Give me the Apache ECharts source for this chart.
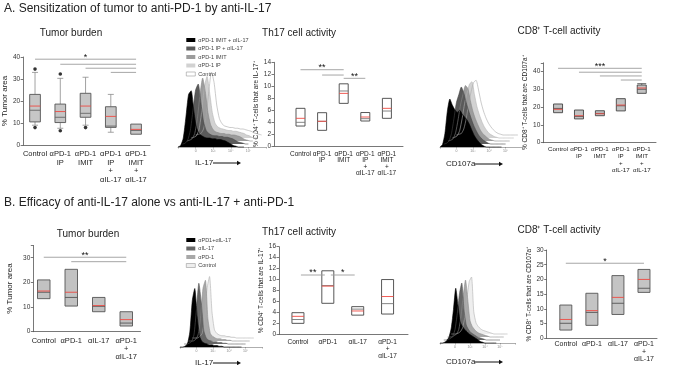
<!DOCTYPE html>
<html>
<head>
<meta charset="utf-8">
<script src="https://cdn.jsdelivr.net/npm/echarts@6/dist/echarts.min.js"></script>
<style>
html, body { margin: 0; padding: 0; background: #fff; }
#chart { width: 677px; height: 365px; }
</style>
</head>
<body>
<div id="chart"></div>
<script>
// ---------- data ----------
const catsA = ['Control', 'αPD-1\nIP', 'αPD-1\nIMIT', 'αPD-1\nIP\n+\nαIL-17', 'αPD-1\nIMIT\n+\nαIL-17'];
const catsB = ['Control', 'αPD-1', 'αIL-17', 'αPD-1\n+\nαIL-17'];

// box rows: [low whisker, Q1, median, Q3, high whisker]
const aTumorBox = [[9, 10.5, 15.8, 23, 33], [7.6, 10.2, 12.6, 18.6, 30.3], [9, 12.6, 14.4, 23.5, 30.8], [5.8, 8.0, 8.6, 17.4, 23], [4.9, 4.9, 6.6, 9.5, 9.5]];
const aTumorMean = [17.7, 15.2, 17.7, 13.0, 7.1];
const aTumorOut = [[0, 34.5], [0, 7.9], [1, 32.3], [1, 6.5], [2, 7.9]];
const aTumorSig = [[0, 4, 39], [1, 4, 36.7], [2, 4, 34.9], [3, 4, 33]];
const aTumorStars = ['*', '', '', ''];

const aTh17Box = [[3.34, 3.34, 3.96, 6.3, 6.3], [2.62, 2.62, 4.13, 5.57, 5.57], [7.13, 7.13, 9.2, 10.4, 10.4], [4.18, 4.18, 4.57, 5.6, 5.6], [4.63, 4.63, 5.85, 7.97, 7.97]];
const aTh17Mean = [4.63, 4.13, 8.8, 4.85, 6.3];
const aTh17Sig = [[0, 2, 12.76], [1, 2, 11.87], [2, 3, 11.32]];
const aTh17Stars = ['**', '', '**'];

const aCd8Box = [[16.9, 16.9, 19.3, 21.8, 21.8], [13.4, 13.4, 14.8, 18.4, 18.4], [15.2, 15.2, 16.5, 18.0, 18.0], [17.9, 17.9, 20.8, 24.8, 24.8], [27.8, 27.8, 30.1, 32.5, 33.3]];
const aCd8Mean = [18.8, 15.2, 16.3, 21.2, 30.8];
const aCd8Sig = [[0, 4, 41.9], [1, 4, 39.7], [2, 4, 37.6], [3, 4, 35.3]];
const aCd8Stars = ['***', '', '', ''];

const bTumorBox = [[13.4, 13.4, 16.0, 21.0, 21.0], [10.4, 10.4, 13.9, 25.3, 25.3], [8.1, 8.1, 10.3, 13.9, 13.9], [2.3, 2.3, 3.5, 8.1, 8.1]];
const bTumorMean = [16.5, 16.0, 10.6, 4.9];
const bTumorSig = [[0, 3, 30.2], [1, 3, 28.4]];
const bTumorStars = ['**', ''];

const bTh17Box = [[2.0, 2.0, 2.7, 3.95, 3.95], [5.66, 5.66, 8.9, 11.6, 11.6], [3.5, 3.5, 4.6, 5.05, 5.05], [3.7, 3.7, 5.6, 10.0, 10.0]];
const bTh17Mean = [3.28, 8.8, 4.26, 6.9];
const bTh17Sig = [[0, 1, 10.83], [1, 2, 10.83]];
const bTh17Stars = ['**', '*'];

const bCd8Box = [[2.8, 2.8, 5.1, 11.3, 11.3], [4.4, 4.4, 8.8, 15.3, 15.3], [8.1, 8.1, 11.9, 21.3, 21.3], [15.6, 15.6, 17.0, 23.4, 23.4]];
const bCd8Mean = [6.4, 9.4, 13.9, 20.0];
const bCd8Sig = [[0, 3, 25.5]];
const bCd8Stars = ['*'];

// flow histograms, counts per bin, front layer first
const legA = ['αPD-1 IMIT + αIL-17', 'αPD-1 IP + αIL-17', 'αPD-1 IMIT', 'αPD-1 IP', 'Control'];
const legB = ['αPD1+αIL-17', 'αIL-17', 'αPD-1', 'Control'];

const il17A_imitIl17 = [0, 2, 12, 40, 70, 75, 48, 26, 18, 15, 13, 12, 12, 11, 11, 10, 10, 9, 8, 6, 4, 2, 1, 0, 0, 0];
const il17A_ipIl17 = [0, 1, 5, 18, 45, 72, 80, 55, 30, 18, 14, 12, 11, 11, 10, 10, 9, 9, 8, 7, 5, 3, 2, 1, 0, 0];
const il17A_imit = [0, 1, 3, 10, 30, 62, 84, 66, 38, 22, 15, 12, 11, 10, 10, 9, 9, 8, 8, 7, 6, 4, 2, 1, 0, 0];
const il17A_ip = [0, 1, 3, 12, 36, 68, 82, 60, 34, 20, 15, 13, 12, 11, 10, 10, 9, 9, 8, 7, 6, 4, 3, 1, 0, 0];
const il17A_ctrl = [0, 1, 2, 8, 26, 58, 84, 70, 40, 22, 15, 12, 11, 10, 10, 9, 9, 8, 8, 7, 6, 5, 3, 2, 1, 0];

const cd107A_imitIl17 = [0, 3, 18, 48, 64, 56, 50, 46, 49, 44, 40, 36, 30, 22, 15, 10, 6, 3, 1, 0, 0, 0, 0, 0, 0, 0];
const cd107A_ipIl17 = [0, 1, 4, 14, 34, 55, 66, 76, 68, 55, 44, 34, 25, 18, 12, 8, 5, 3, 1, 0, 0, 0, 0, 0, 0, 0];
const cd107A_imit = [0, 1, 3, 11, 28, 48, 62, 74, 70, 54, 40, 30, 22, 15, 10, 7, 4, 2, 1, 0, 0, 0, 0, 0, 0, 0];
const cd107A_ip = [0, 1, 3, 10, 26, 46, 60, 72, 75, 58, 42, 31, 22, 15, 10, 6, 4, 2, 1, 0, 0, 0, 0, 0, 0, 0];
const cd107A_ctrl = [0, 1, 2, 8, 22, 42, 58, 70, 73, 60, 44, 32, 23, 16, 11, 7, 4, 2, 1, 0, 0, 0, 0, 0, 0, 0];

const il17B_combo = [0, 0, 1, 4, 20, 62, 78, 40, 14, 7, 5, 4, 3, 3, 2, 2, 1, 1, 0, 0, 0, 0, 0, 0, 0, 0];
const il17B_il17 = [0, 0, 1, 3, 12, 45, 81, 55, 18, 8, 5, 4, 3, 3, 2, 2, 1, 1, 0, 0, 0, 0, 0, 0, 0, 0];
const il17B_pd1 = [0, 0, 0, 2, 8, 30, 70, 81, 30, 10, 6, 4, 3, 3, 2, 2, 1, 1, 0, 0, 0, 0, 0, 0, 0, 0];
const il17B_ctrl = [0, 0, 0, 2, 6, 25, 66, 82, 35, 11, 6, 4, 3, 3, 2, 2, 1, 1, 0, 0, 0, 0, 0, 0, 0, 0];

const cd107B_combo = [0, 0, 1, 3, 8, 20, 45, 73, 50, 28, 22, 18, 15, 12, 10, 8, 6, 4, 2, 1, 0, 0, 0, 0, 0, 0];
const cd107B_il17 = [0, 0, 1, 2, 5, 14, 35, 62, 76, 40, 20, 14, 10, 8, 6, 4, 3, 2, 1, 0, 0, 0, 0, 0, 0, 0];
const cd107B_pd1 = [0, 0, 0, 2, 4, 10, 28, 55, 76, 50, 22, 14, 10, 7, 5, 4, 3, 2, 1, 0, 0, 0, 0, 0, 0, 0];
const cd107B_ctrl = [0, 0, 0, 1, 3, 8, 22, 48, 70, 76, 30, 15, 10, 7, 5, 4, 3, 2, 1, 0, 0, 0, 0, 0, 0, 0];

const histTicks = ['', '0', '10³', '10⁴', '10⁵', ''];

// ---------- layout ----------
const FONT = '"Liberation Sans", Arial, Helvetica, sans-serif';
const RED = '#ee4b43';

const panels = [
    { cats: catsA, box: aTumorBox, mean: aTumorMean, out: aTumorOut, sig: aTumorSig, stars: aTumorStars,
      ax: 21.5, axEnd: 150, band0: 22.4, band1: 148.7, top: 57, base: 145, yMax: 40, yInt: 10,
      yName: '% Tumor area', nameGap: 11, nameSize: 8, fill: '#c6c6c6', edge: '#555', med: '#666', whisker: '#8a8a8a',
      boxW: 10.7, cap: 6, lblSize: 7.5, lh: 8.5, margin: 5 },
    { cats: catsA, box: aTh17Box, mean: aTh17Mean, sig: aTh17Sig, stars: aTh17Stars,
      ax: 274, axEnd: 403, band0: 289.7, band1: 397.7, top: 62.3, base: 146, yMax: 14, yInt: 2,
      yName: '% CD4⁺ T-cells that are IL-17⁺', nameGap: 9, nameSize: 6.5, fill: '#ffffff', edge: '#444', med: '#777', whisker: '#777',
      boxW: 9, cap: 5, lblSize: 6.5, lh: 6.5, margin: 4.5 },
    { cats: catsA, box: aCd8Box, mean: aCd8Mean, sig: aCd8Sig, stars: aCd8Stars,
      ax: 543.3, axEnd: 656, band0: 547.6, band1: 652.2, top: 62.8, base: 142.7, yMax: 45, yInt: 10,
      yName: '% CD8⁺ T-cells that are CD107a⁺', nameGap: 13, nameSize: 6.5, fill: '#c2c2c2', edge: '#444', med: '#555', whisker: '#555',
      boxW: 9, cap: 9, lblSize: 6.2, lh: 7, margin: 3.5 },
    { cats: catsB, box: bTumorBox, mean: bTumorMean, sig: bTumorSig, stars: bTumorStars,
      ax: 33.3, axEnd: 140.5, band0: 30, band1: 140, top: 245.4, base: 331.7, yMax: 35, yInt: 10,
      yName: '% Tumor area', nameGap: 20, nameSize: 8, fill: '#c2c2c2', edge: '#555', med: '#555', whisker: '#555',
      boxW: 12.5, cap: 6, lblSize: 7.5, lh: 8, margin: 5.5 },
    { cats: catsB, box: bTh17Box, mean: bTh17Mean, sig: bTh17Sig, stars: bTh17Stars, sigInset: 3,
      ax: 279, axEnd: 408, band0: 283, band1: 402.5, top: 246.7, base: 334.3, yMax: 16, yInt: 2,
      yName: '% CD4⁺ T-cells that are IL-17⁺', nameGap: 9, nameSize: 6.5, fill: '#ffffff', edge: '#444', med: '#777', whisker: '#777',
      boxW: 12, cap: 6, lblSize: 6.5, lh: 7, margin: 4.5 },
    { cats: catsB, box: bCd8Box, mean: bCd8Mean, sig: bCd8Sig, stars: bCd8Stars,
      ax: 546.7, axEnd: 657, band0: 552.8, band1: 657, top: 250, base: 338.3, yMax: 30, yInt: 5,
      yName: '% CD8⁺ T-cells that are CD107a⁺', nameGap: 14, nameSize: 6.5, fill: '#c4c4c4', edge: '#555', med: '#555', whisker: '#555',
      boxW: 12, cap: 6, lblSize: 7, lh: 7.5, margin: 2.5 }
];

const hists = [
    { x0: 178, x1: 266, top: 72, base: 147, dx: 5, dy: 4, names: legA,
      layers: [il17A_imitIl17, il17A_ipIl17, il17A_imit, il17A_ip, il17A_ctrl] },
    { x0: 440, x1: 522, top: 72, base: 147, dx: 5, dy: 4, names: legA,
      layers: [cd107A_imitIl17, cd107A_ipIl17, cd107A_imit, cd107A_ip, cd107A_ctrl] },
    { x0: 180, x1: 262, top: 272, base: 347, dx: 5, dy: 4, names: legB,
      layers: [il17B_combo, il17B_il17, il17B_pd1, il17B_ctrl] },
    { x0: 440, x1: 515, top: 268, base: 343, dx: 5, dy: 4, names: legB,
      layers: [cd107B_combo, cd107B_il17, cd107B_pd1, cd107B_ctrl] }
];
const fillA = ['#000000', '#5a5a5a', '#9c9c9c', '#d2d2d2', '#ffffff'];
const strokeA = ['#000000', '#444444', '#888888', '#b5b5b5', '#a8a8a8'];
const fillB = ['#000000', '#666666', '#a8a8a8', '#eeeeee'];
const strokeB = ['#000000', '#555555', '#8c8c8c', '#b0b0b0'];
const BIN = 3;

function boxRender(p) {
    return function (params, api) {
        const i = api.value(0);
        const x = api.coord([i, 0])[0];
        const py = k => api.coord([i, api.value(k)])[1];
        const lo = py(1), q1 = py(2), md = py(3), q3 = py(4), hi = py(5), mn = py(6);
        const w = p.boxW, c = p.cap;
        const ws = { stroke: p.whisker, lineWidth: 0.8 };
        const kids = [];
        if (hi < q3 - 0.5) {
            kids.push({ type: 'line', shape: { x1: x, y1: hi, x2: x, y2: q3 }, style: ws });
            kids.push({ type: 'line', shape: { x1: x - c / 2, y1: hi, x2: x + c / 2, y2: hi }, style: ws });
        }
        if (lo > q1 + 0.5) {
            kids.push({ type: 'line', shape: { x1: x, y1: q1, x2: x, y2: lo }, style: ws });
            kids.push({ type: 'line', shape: { x1: x - c / 2, y1: lo, x2: x + c / 2, y2: lo }, style: ws });
        }
        kids.push({ type: 'rect', shape: { x: x - w / 2, y: q3, width: w, height: q1 - q3 },
            style: { fill: p.fill, stroke: p.edge, lineWidth: 0.9 } });
        kids.push({ type: 'line', shape: { x1: x - w / 2, y1: md, x2: x + w / 2, y2: md }, style: { stroke: p.med, lineWidth: 0.9 } });
        kids.push({ type: 'line', shape: { x1: x - w / 2, y1: mn, x2: x + w / 2, y2: mn }, style: { stroke: RED, lineWidth: 0.9 } });
        return { type: 'group', children: kids };
    };
}

function sigRender(p) {
    return function (params, api) {
        const a = api.coord([api.value(0), api.value(2)]);
        const b = api.coord([api.value(1), api.value(2)]);
        const inset = p.sigInset || 0;
        const kids = [{ type: 'line', shape: { x1: a[0] + inset, y1: a[1], x2: b[0] - inset, y2: b[1] },
            style: { stroke: '#9c9c9c', lineWidth: 0.9 } }];
        const label = p.stars[params.dataIndex];
        if (label) {
            kids.push({ type: 'text', x: (a[0] + b[0]) / 2, y: a[1] - 2,
                style: { text: label, fontSize: 9, fontFamily: FONT, fill: '#111', align: 'center', verticalAlign: 'middle' } });
        }
        return { type: 'group', children: kids };
    };
}

const grid = [], xAxis = [], yAxis = [], series = [];
const axisLineStyle = { color: '#555', width: 0.8 };

panels.forEach(p => {
    const h = p.base - p.top;
    // frame: y axis + x axis line
    const fi = grid.length;
    grid.push({ left: p.ax, top: p.top, width: p.axEnd - p.ax, height: h });
    xAxis.push({ gridIndex: fi, type: 'value', min: 0, max: 1,
        axisLine: { lineStyle: axisLineStyle }, axisTick: { show: false }, axisLabel: { show: false }, splitLine: { show: false } });
    yAxis.push({ gridIndex: fi, type: 'value', min: 0, max: p.yMax, interval: p.yInt,
        name: p.yName, nameLocation: 'middle', nameGap: p.nameGap,
        nameTextStyle: { fontSize: p.nameSize, fontFamily: FONT, color: '#222' },
        axisLine: { show: true, lineStyle: axisLineStyle },
        axisTick: { show: true, length: 2.5, lineStyle: axisLineStyle },
        axisLabel: { fontSize: 6.5, margin: 3, color: '#333', fontFamily: FONT,
            formatter: v => (v % p.yInt === 0 ? String(v) : '') },
        splitLine: { show: false } });
    // plot: category bands
    const pi = grid.length;
    grid.push({ left: p.band0, top: p.top, width: p.band1 - p.band0, height: h });
    xAxis.push({ gridIndex: pi, type: 'category', data: p.cats, boundaryGap: true,
        axisLine: { show: false }, axisTick: { show: false },
        axisLabel: { interval: 0, fontSize: p.lblSize, lineHeight: p.lh, margin: p.margin, color: '#222', fontFamily: FONT } });
    yAxis.push({ gridIndex: pi, type: 'value', min: 0, max: p.yMax, show: false });

    series.push({ type: 'custom', xAxisIndex: pi, yAxisIndex: pi, clip: false, silent: true,
        renderItem: boxRender(p), encode: { x: 0, y: [1, 2, 3, 4, 5, 6] },
        data: p.box.map((b, i) => [i].concat(b, [p.mean[i]])) });
    if (p.out) {
        series.push({ type: 'scatter', xAxisIndex: pi, yAxisIndex: pi, symbolSize: 3.6, silent: true,
            itemStyle: { color: '#000' }, data: p.out });
    }
    series.push({ type: 'custom', xAxisIndex: pi, yAxisIndex: pi, clip: false, silent: true,
        renderItem: sigRender(p), encode: { x: [0, 1], y: 2 }, data: p.sig });
});

hists.forEach(hg => {
    const gi = grid.length;
    grid.push({ left: hg.x0, top: hg.top, width: hg.x1 - hg.x0, height: hg.base - hg.top });
    xAxis.push({ gridIndex: gi, type: 'value', min: 0, max: 100, interval: 20,
        axisLine: { lineStyle: { color: '#777', width: 0.6 } },
        axisTick: { length: 1.5, lineStyle: { color: '#777', width: 0.6 } },
        axisLabel: { fontSize: 3.5, margin: 2, color: '#888', formatter: v => histTicks[v / 20] || '' },
        splitLine: { show: false } });
    yAxis.push({ gridIndex: gi, type: 'value', min: 0, max: 100, show: false });
    const isA = hg.layers.length === 5;
    const fills = isA ? fillA : fillB, strokes = isA ? strokeA : strokeB;
    for (let k = hg.layers.length - 1; k >= 0; k--) {
        series.push({ type: 'line', name: hg.names[k], xAxisIndex: gi, yAxisIndex: gi,
            data: hg.layers[k].map((c, i) => [i * BIN + k * hg.dx, c + k * hg.dy]),
            symbol: 'none', smooth: 0.2, clip: false, silent: true, color: fills[k],
            lineStyle: { color: strokes[k], width: 0.6 },
            areaStyle: { color: fills[k], opacity: 1, origin: k * hg.dy } });
    }
});

function legendData(names, fills) {
    return names.map((n, i) => ({ name: n, itemStyle: { color: fills[i], borderColor: '#999', borderWidth: fills[i] === '#ffffff' || fills[i] === '#eeeeee' ? 0.6 : 0 } }));
}
const legendCommon = { orient: 'vertical', icon: 'rect', itemWidth: 9, itemHeight: 4, itemGap: 2.5, padding: 0,
    selectedMode: false, textStyle: { fontSize: 5.5, color: '#444', fontFamily: FONT, padding: [0, 0, 0, -2] } };

function txt(s, x, y, size, align) {
    return { type: 'text', x: x, y: y, silent: true,
        style: { text: s, fontSize: size, fontFamily: FONT, fill: '#222', textAlign: align || 'left', textVerticalAlign: 'middle' } };
}
function arrow(x1, x2, y) {
    return [
        { type: 'line', silent: true, shape: { x1: x1, y1: y, x2: x2 - 3, y2: y }, style: { stroke: '#111', lineWidth: 1 } },
        { type: 'polygon', silent: true, shape: { points: [[x2 - 4, y - 2.2], [x2, y], [x2 - 4, y + 2.2]] }, style: { fill: '#111' } }
    ];
}

const option = {
    animation: false,
    backgroundColor: '#fff',
    textStyle: { fontFamily: FONT },
    grid: grid,
    xAxis: xAxis,
    yAxis: yAxis,
    series: series,
    legend: [
        Object.assign({ left: 186, top: 37, data: legendData(legA, fillA) }, legendCommon),
        Object.assign({ left: 186, top: 237, data: legendData(legB, fillB) }, legendCommon)
    ],
    graphic: [
        txt('A. Sensitization of tumor to anti-PD-1 by anti-IL-17', 4, 9, 12),
        txt('B. Efficacy of anti-IL-17 alone vs anti-IL-17 + anti-PD-1', 4, 203, 12),
        txt('Tumor burden', 71, 33, 10, 'center'),
        txt('Th17 cell activity', 299, 33, 10, 'center'),
        txt('CD8⁺ T-cell activity', 559, 31, 10, 'center'),
        txt('Tumor burden', 88, 234, 10, 'center'),
        txt('Th17 cell activity', 299, 232, 10, 'center'),
        txt('CD8⁺ T-cell activity', 559, 230, 10, 'center'),
        txt('IL-17', 195, 163, 8),
        txt('CD107a', 446, 164, 8),
        txt('IL-17', 195, 363, 8),
        txt('CD107a', 446, 362, 8)
    ].concat(arrow(213, 241, 163), arrow(475, 503, 164), arrow(213, 241, 363), arrow(475, 503, 362))
};

const myChart = echarts.init(document.getElementById('chart'));
myChart.setOption(option);
</script>
</body>
</html>
